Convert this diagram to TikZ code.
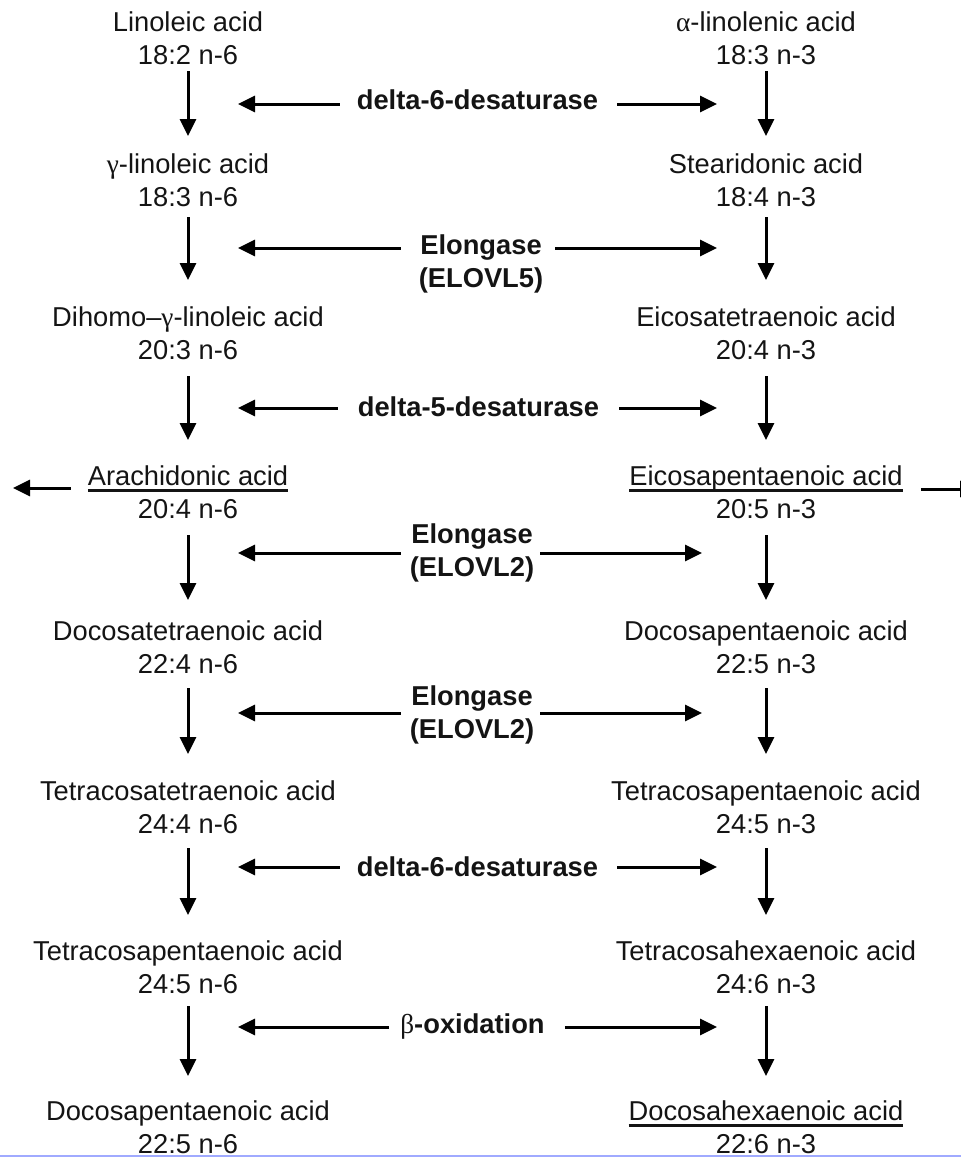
\documentclass[tikz,border=0pt]{standalone}
\usepackage{fontspec}
\setmainfont{Liberation Sans}
\newfontfamily\grk{Liberation Serif}
\usetikzlibrary{arrows.meta}
\definecolor{txt}{RGB}{20,20,20}
\definecolor{edgeblue}{RGB}{160,170,255}
\newcommand\twol[2]{\vtop{\halign{\hfil##\hfil\cr#1\cr#2\cr}}}
\newcommand\ulin[1]{\setbox0=\hbox{#1}\rlap{\vrule height -4pt depth 6.5pt width \wd0}\box0}
\tikzset{
  acid/.style={inner sep=0pt, anchor=base, text=txt, font=\fontsize{27.3}{33}\selectfont},
  enz/.style={inner sep=0pt, anchor=base, text=txt, font=\fontsize{27.3}{33}\selectfont\bfseries},
  flow/.style={line width=3pt, draw=black, -{Triangle[width=16pt,length=17pt]}},
}
\begin{document}
\begin{tikzpicture}[x=1pt,y=-1pt]
\useasboundingbox (0,0) rectangle (961,1157);
\clip (0,0) rectangle (961,1157);
% n-6 column
\node[acid] (L1) at (188,31)   {\twol{Linoleic acid}{18:2 n-6}};
\node[acid] (L2) at (188,173)  {\twol{{\grk γ}-linoleic acid}{18:3 n-6}};
\node[acid] (L3) at (188,326)  {\twol{Dihomo–{\grk γ}-linoleic acid}{20:3 n-6}};
\node[acid] (L4) at (188,485)  {\twol{\ulin{Arachidonic acid}}{20:4 n-6}};
\node[acid] (L5) at (188,640)  {\twol{Docosatetraenoic acid}{22:4 n-6}};
\node[acid] (L6) at (188,800)  {\twol{Tetracosatetraenoic acid}{24:4 n-6}};
\node[acid] (L7) at (188,960)  {\twol{Tetracosapentaenoic acid}{24:5 n-6}};
\node[acid] (L8) at (188,1120) {\twol{Docosapentaenoic acid}{22:5 n-6}};
% n-3 column
\node[acid] (R1) at (766,31)   {\twol{{\grk α}-linolenic acid}{18:3 n-3}};
\node[acid] (R2) at (766,173)  {\twol{Stearidonic acid}{18:4 n-3}};
\node[acid] (R3) at (766,326)  {\twol{Eicosatetraenoic acid}{20:4 n-3}};
\node[acid] (R4) at (766,485)  {\twol{\ulin{Eicosapentaenoic acid}}{20:5 n-3}};
\node[acid] (R5) at (766,640)  {\twol{Docosapentaenoic acid}{22:5 n-3}};
\node[acid] (R6) at (766,800)  {\twol{Tetracosapentaenoic acid}{24:5 n-3}};
\node[acid] (R7) at (766,960)  {\twol{Tetracosahexaenoic acid}{24:6 n-3}};
\node[acid] (R8) at (766,1120) {\twol{\ulin{Docosahexaenoic acid}}{22:6 n-3}};
% vertical conversion arrows
\foreach \a/\b/\s/\e in {1/2/7/17, 2/3/11/26, 3/4/17/25, 4/5/17/20, 5/6/15/26, 6/7/15/25, 7/8/13/24}{
  \draw[flow, shorten <=\s pt, shorten >=\e pt] (L\a) -- (L\b);
  \draw[flow, shorten <=\s pt, shorten >=\e pt] (R\a) -- (R\b);
}
% enzymes
\node[enz] (E1) at (477.5,109) {delta-6-desaturase};
\node[enz] (E2) at (481,254)   {\twol{Elongase}{(ELOVL5)}};
\node[enz] (E3) at (478.5,416) {delta-5-desaturase};
\node[enz] (E4) at (472,543)   {\twol{Elongase}{(ELOVL2)}};
\node[enz] (E5) at (472,705)   {\twol{Elongase}{(ELOVL2)}};
\node[enz] (E6) at (477.5,876) {delta-6-desaturase};
\node[enz] (E7) at (472.5,1033) {{\grk\mdseries β}-oxidation};
% enzyme arrow end points
\coordinate (a1) at (238,104);  \coordinate (b1) at (717,104);
\coordinate (a2) at (238,248);  \coordinate (b2) at (717,248);
\coordinate (a3) at (238,408);  \coordinate (b3) at (717,408);
\coordinate (a4) at (238,553);  \coordinate (b4) at (702,553);
\coordinate (a5) at (238,713);  \coordinate (b5) at (702,713);
\coordinate (a6) at (238,867);  \coordinate (b6) at (717,867);
\coordinate (a7) at (238,1027); \coordinate (b7) at (717,1027);
\foreach \i/\l/\r in {1/17/19, 2/18/12, 3/20/20, 4/9/6, 5/9/6, 6/17/19, 7/11/20}{
  \draw[flow, shorten <=\l pt] (E\i.west |- a\i) -- (a\i);
  \draw[flow, shorten <=\r pt] (E\i.east |- b\i) -- (b\i);
}
% side arrows
\coordinate (sideL) at (13,488);
\coordinate (sideR) at (977,489);
\draw[flow, shorten <=17pt] (L4.west |- sideL) -- (sideL);
\draw[flow, shorten <=18pt] (R4.east |- sideR) -- (sideR);
% bottom edge line
\draw[edgeblue, line width=2pt] (0,1155.5) -- (961,1155.5);
\end{tikzpicture}
\end{document}
